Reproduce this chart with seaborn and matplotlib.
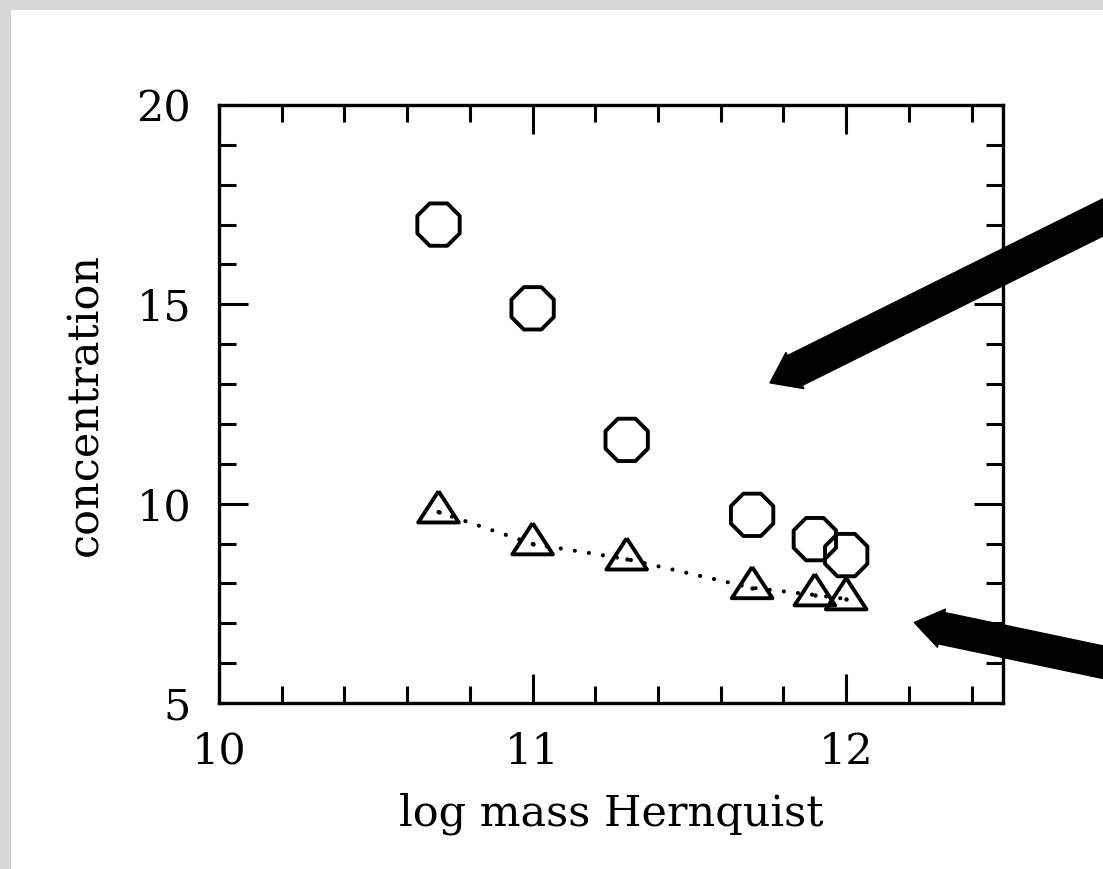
import numpy as np
import pandas as pd
import matplotlib
matplotlib.use("Agg")
import matplotlib.pyplot as plt
from matplotlib.ticker import MultipleLocator, FixedLocator
from matplotlib.patches import Rectangle
import seaborn as sns

# ---- data ----
log_mass = [10.7, 11.0, 11.3, 11.7, 11.9, 12.0]
conc_circles = [17.0, 14.9, 11.6, 9.72, 9.11, 8.71]
conc_triangles = [9.79, 8.99, 8.61, 7.89, 7.71, 7.61]
x_ticks = [10, 11, 12]
y_ticks = [5, 10, 15, 20]
x_label = "log mass Hernquist"
y_label = "concentration"

sns.set_theme(style="ticks")
plt.rcParams['font.family'] = ['DejaVu Serif']

W, H = 1103, 869
fig = plt.figure(figsize=(W / 100, H / 100), dpi=100, facecolor="white")
# light gray border strips (left and top)
fig.patches.append(Rectangle((0, 0), 11 / W, 1, transform=fig.transFigure,
                             facecolor="#d7d7d7", edgecolor="none", zorder=-10))
fig.patches.append(Rectangle((0, 1 - 10 / H), 1, 10 / H, transform=fig.transFigure,
                             facecolor="#d7d7d7", edgecolor="none", zorder=-10))

ax = fig.add_axes([219 / W, 166 / H, 784 / W, 598 / H])
ax.set_facecolor("white")

df_c = pd.DataFrame({"x": log_mass, "y": conc_circles})
df_t = pd.DataFrame({"x": log_mass, "y": conc_triangles})

# dotted connecting line for triangles
sns.lineplot(data=df_t, x="x", y="y", ax=ax, color="black", linewidth=3.0,
             linestyle=(0, (0.01, 3.4)), dash_capstyle="round",
             sort=True, estimator=None)

# open octagons
sns.scatterplot(data=df_c, x="x", y="y", ax=ax, marker="8", s=33 ** 2,
                facecolor="none", edgecolor="black", linewidths=2.8, zorder=3)

# open triangles (centroid at data point)
tri = [(0, 20), (-19.5, -10), (19.5, -10), (0, 20)]
sns.scatterplot(data=df_t, x="x", y="y", ax=ax, marker=tri, s=30 ** 2,
                facecolor="none", edgecolor="black", linewidths=2.8, zorder=3)
# central dots
sns.scatterplot(data=df_t, x="x", y="y", ax=ax, marker="o", s=10,
                color="black", linewidth=0, zorder=4)

ax.set_xlim(10, 12.5)
ax.set_ylim(5, 20)
ax.xaxis.set_major_locator(FixedLocator(x_ticks))
ax.yaxis.set_major_locator(FixedLocator(y_ticks))
ax.xaxis.set_minor_locator(MultipleLocator(0.2))
ax.yaxis.set_minor_locator(MultipleLocator(1))
ax.set_xticklabels([str(v) for v in x_ticks])
ax.set_yticklabels([str(v) for v in y_ticks])

ax.tick_params(which="both", direction="in", top=True, right=True, color="black",
               labelsize=31, labelcolor="black")
ax.tick_params(which="major", length=21, width=2.2)
ax.tick_params(which="minor", length=12.5, width=2.2)
ax.tick_params(axis="x", which="major", pad=20)
ax.tick_params(axis="y", which="major", pad=20)

for sp in ax.spines.values():
    sp.set_visible(True)
    sp.set_linewidth(2.4)
    sp.set_color("black")

ax.set_xlabel(x_label, fontsize=31, color="black", labelpad=14)
ax.set_ylabel(y_label, fontsize=31, color="black", labelpad=22)

# big black arrows (annotations)
ax.annotate("", xy=(11.757, 13.03), xycoords="data",
            xytext=(1140, 670), textcoords="figure pixels",
            arrowprops=dict(arrowstyle="simple,head_length=20,head_width=29,tail_width=24",
                            color="black", mutation_scale=1, shrinkA=0, shrinkB=0),
            annotation_clip=False, zorder=6)
ax.annotate("", xy=(12.217, 7.02), xycoords="data",
            xytext=(1140, 199), textcoords="figure pixels",
            arrowprops=dict(arrowstyle="simple,head_length=20,head_width=28,tail_width=23",
                            color="black", mutation_scale=1, shrinkA=0, shrinkB=0),
            annotation_clip=False, zorder=6)

fig.savefig("out.png", dpi=100, facecolor=fig.get_facecolor())
